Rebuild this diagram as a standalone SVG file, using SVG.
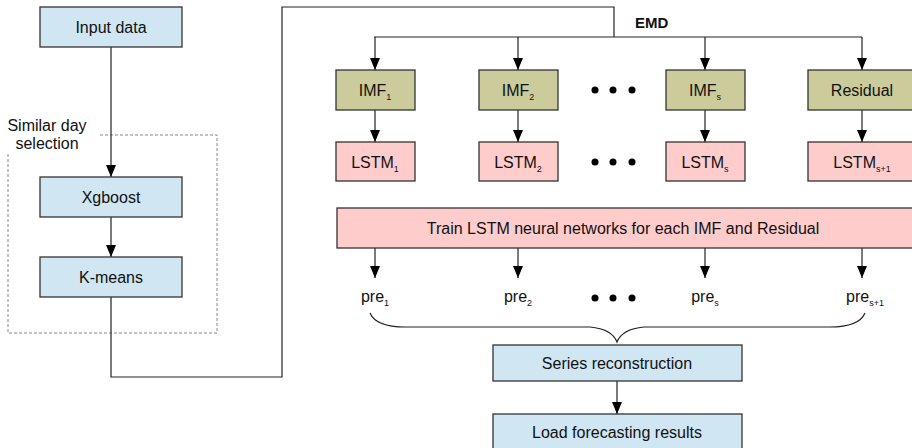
<svg xmlns="http://www.w3.org/2000/svg" width="912" height="448" viewBox="0 0 912 448">
<defs>
<style>
text{font-family:"Liberation Sans",Arial,sans-serif;font-size:16px;fill:#111;}
.c{text-anchor:middle;}
.sub{font-size:9px;}
.blue{fill:#d0e6f3;stroke:#333;stroke-width:1.3;}
.olive{fill:#cbcb9b;stroke:#333;stroke-width:1.3;}
.pink{fill:#ffcccc;stroke:#333;stroke-width:1.3;}
.ln{fill:none;stroke:#222;stroke-width:1.2;}
.dash{fill:none;stroke:#888;stroke-width:1;stroke-dasharray:3,2;}
</style>
<marker id="ah" markerWidth="12" markerHeight="10" refX="12" refY="5" orient="auto" markerUnits="userSpaceOnUse">
<path d="M0,0 L12,5 L0,10 Z" fill="#000"/>
</marker>
</defs>
<rect width="912" height="448" fill="#fff"/>

<g id="similar-day-group">
<path class="dash" d="M100,135 H217 V333 H8 V153"/>
<text class="c" x="47" y="131">Similar day</text>
<text class="c" x="47" y="149">selection</text>
</g>

<g id="connectors">
<line class="ln" x1="111" y1="47" x2="111" y2="177" marker-end="url(#ah)"/>
<line class="ln" x1="111" y1="217" x2="111" y2="257" marker-end="url(#ah)"/>
<polyline class="ln" points="111,297 111,377 282,377 282,7 614,7 614,37"/>
<line class="ln" x1="374" y1="37" x2="862" y2="37"/>
<line class="ln" x1="375" y1="37" x2="375" y2="70" marker-end="url(#ah)"/>
<line class="ln" x1="518" y1="37" x2="518" y2="70" marker-end="url(#ah)"/>
<line class="ln" x1="705" y1="37" x2="705" y2="70" marker-end="url(#ah)"/>
<line class="ln" x1="862" y1="37" x2="862" y2="70" marker-end="url(#ah)"/>
<line class="ln" x1="375" y1="110" x2="375" y2="142" marker-end="url(#ah)"/>
<line class="ln" x1="518" y1="110" x2="518" y2="142" marker-end="url(#ah)"/>
<line class="ln" x1="705" y1="110" x2="705" y2="142" marker-end="url(#ah)"/>
<line class="ln" x1="862" y1="110" x2="862" y2="142" marker-end="url(#ah)"/>
<line class="ln" x1="375" y1="248" x2="375" y2="278" marker-end="url(#ah)"/>
<line class="ln" x1="518" y1="248" x2="518" y2="278" marker-end="url(#ah)"/>
<line class="ln" x1="705" y1="248" x2="705" y2="278" marker-end="url(#ah)"/>
<line class="ln" x1="862" y1="248" x2="862" y2="278" marker-end="url(#ah)"/>
<path class="ln" d="M370,313 Q376,327 405,327 L590,327 Q612,329 617,342 Q622,329 644,327 L830,327 Q859,327 865,313"/>
<line class="ln" x1="617" y1="381" x2="617" y2="414" marker-end="url(#ah)"/>
</g>

<g id="input-data"><rect class="blue" x="40" y="7" width="142" height="40"/><text class="c" x="111" y="33">Input data</text></g>
<g id="xgboost"><rect class="blue" x="40" y="177" width="142" height="40"/><text class="c" x="111" y="203">Xgboost</text></g>
<g id="kmeans"><rect class="blue" x="40" y="257" width="142" height="40"/><text class="c" x="111" y="283">K-means</text></g>

<g id="emd-label"><text x="635" y="28" style="font-weight:bold;font-size:15px">EMD</text></g>

<g id="imf1"><rect class="olive" x="336" y="70" width="79" height="40"/><text class="c" x="375" y="96">IMF<tspan class="sub" dy="4">1</tspan></text></g>
<g id="imf2"><rect class="olive" x="479" y="70" width="79" height="40"/><text class="c" x="518" y="96">IMF<tspan class="sub" dy="4">2</tspan></text></g>
<g id="imfs"><rect class="olive" x="666" y="70" width="79" height="40"/><text class="c" x="705" y="96">IMF<tspan class="sub" dy="4">s</tspan></text></g>
<g id="residual"><rect class="olive" x="808" y="70" width="110" height="40"/><text class="c" x="862" y="96">Residual</text></g>

<g id="lstm1"><rect class="pink" x="336" y="142" width="79" height="39"/><text class="c" x="375" y="168">LSTM<tspan class="sub" dy="4">1</tspan></text></g>
<g id="lstm2"><rect class="pink" x="479" y="142" width="79" height="39"/><text class="c" x="518" y="168">LSTM<tspan class="sub" dy="4">2</tspan></text></g>
<g id="lstms"><rect class="pink" x="666" y="142" width="79" height="39"/><text class="c" x="705" y="168">LSTM<tspan class="sub" dy="4">s</tspan></text></g>
<g id="lstms1"><rect class="pink" x="808" y="142" width="110" height="39"/><text class="c" x="862" y="168">LSTM<tspan class="sub" dy="4">s+1</tspan></text></g>

<g id="dots">
<circle cx="595" cy="90" r="3.5" fill="#000"/><circle cx="613" cy="90" r="3.5" fill="#000"/><circle cx="632" cy="90" r="3.5" fill="#000"/>
<circle cx="595" cy="162" r="3.5" fill="#000"/><circle cx="613" cy="162" r="3.5" fill="#000"/><circle cx="632" cy="162" r="3.5" fill="#000"/>
<circle cx="595" cy="298" r="3.5" fill="#000"/><circle cx="613" cy="298" r="3.5" fill="#000"/><circle cx="632" cy="298" r="3.5" fill="#000"/>
</g>

<g id="train"><rect class="pink" x="337" y="208" width="580" height="40"/><text class="c" x="623" y="234">Train LSTM neural networks for each IMF and Residual</text></g>

<g id="pre1"><text class="c" x="375" y="302">pre<tspan class="sub" dy="4">1</tspan></text></g>
<g id="pre2"><text class="c" x="518" y="302">pre<tspan class="sub" dy="4">2</tspan></text></g>
<g id="pres"><text class="c" x="705" y="302">pre<tspan class="sub" dy="4">s</tspan></text></g>
<g id="pres1"><text class="c" x="865" y="302">pre<tspan class="sub" dy="4">s+1</tspan></text></g>

<g id="series"><rect class="blue" x="493" y="345" width="249" height="36"/><text class="c" x="617" y="369">Series reconstruction</text></g>
<g id="load"><rect class="blue" x="493" y="414" width="249" height="40"/><text class="c" x="617" y="438">Load forecasting results</text></g>
</svg>
